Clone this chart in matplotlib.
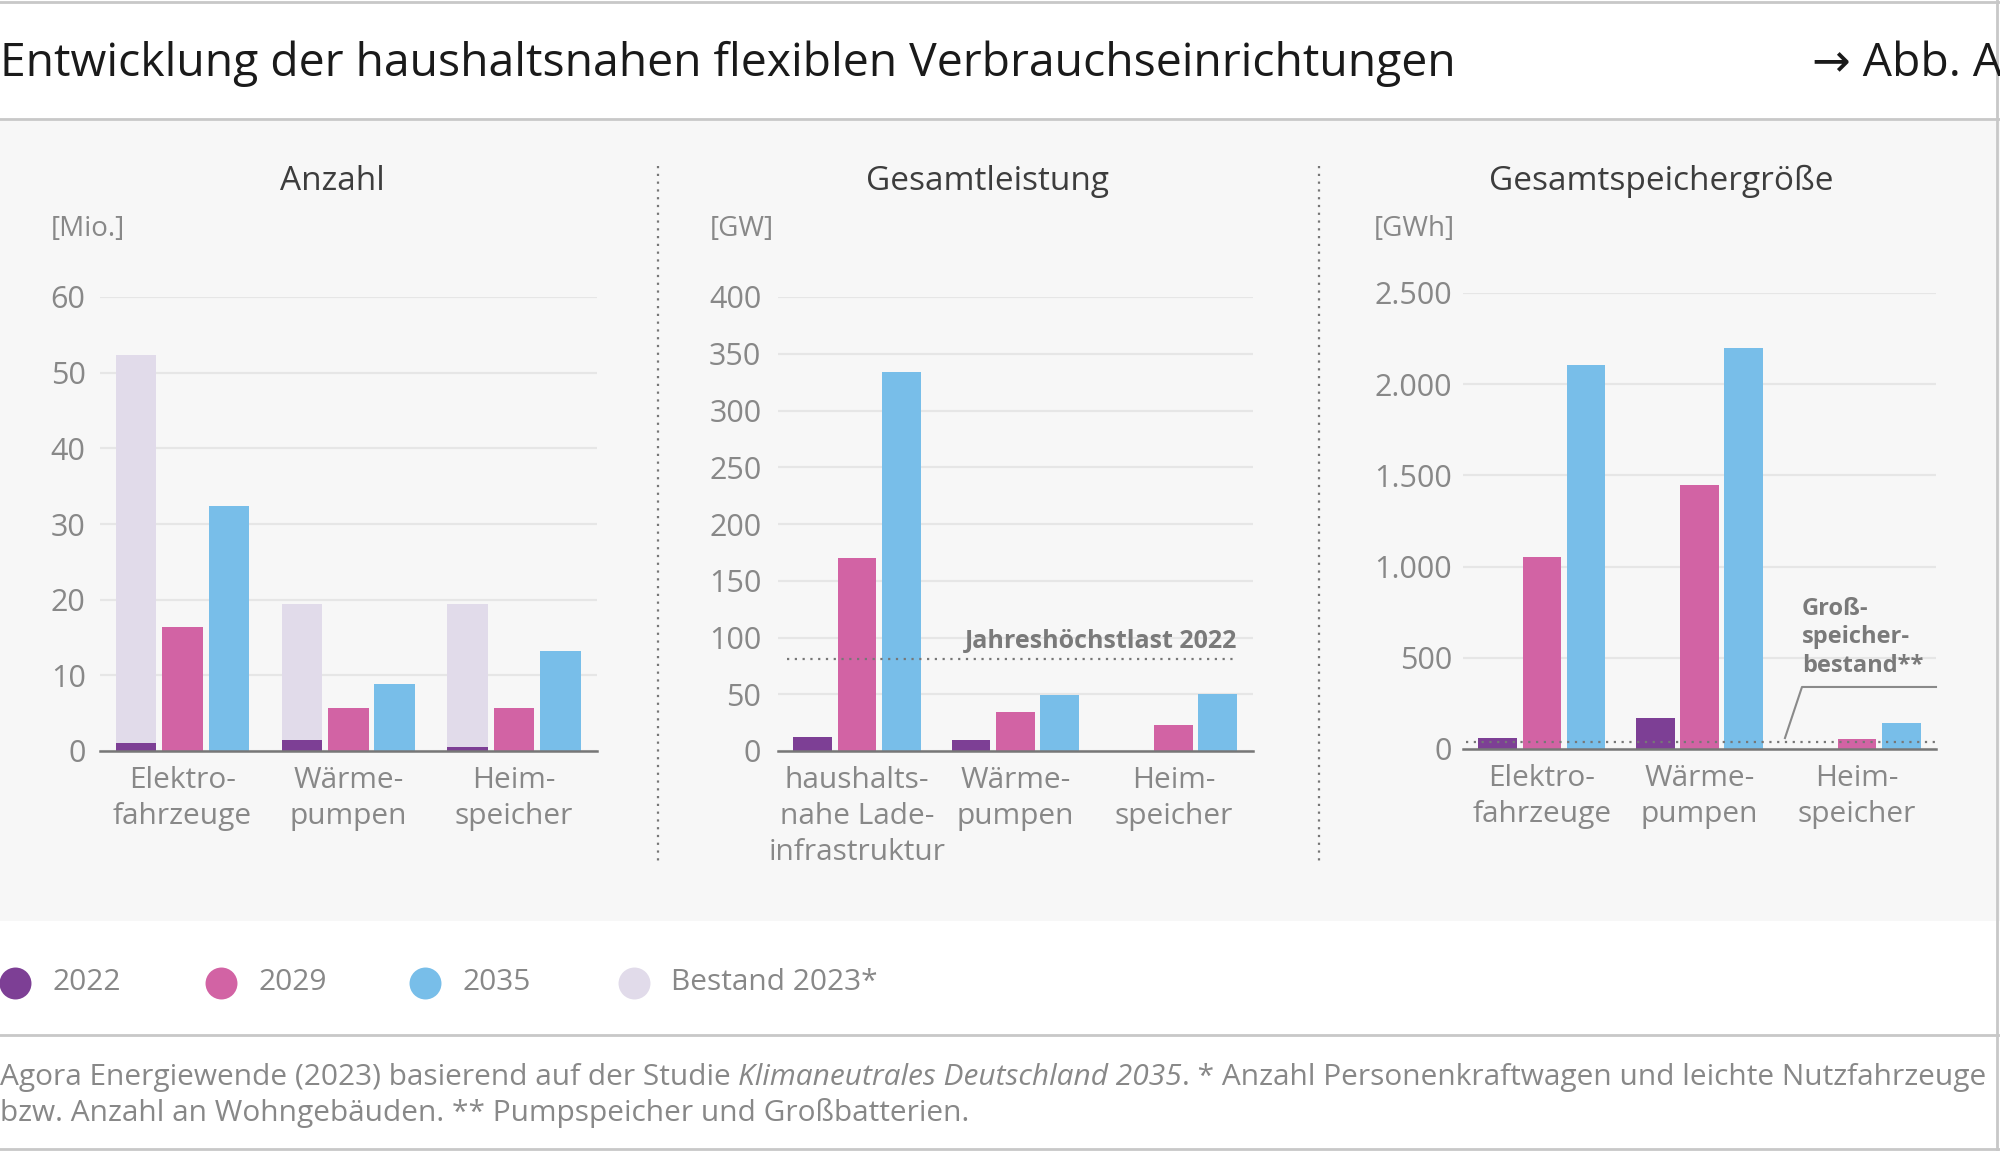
import matplotlib.pyplot as plt
from matplotlib.patches import Rectangle
from matplotlib.lines import Line2D
import numpy as np

plt.rcParams['font.family'] = ['Open Sans', 'DejaVu Sans']

# ---- data ----
groups_anzahl = ['Elektro-\nfahrzeuge', 'Wärme-\npumpen', 'Heim-\nspeicher']
anzahl_2022 = [1.0, 1.5, 0.5]
anzahl_2029 = [16.4, 5.7, 5.7]
anzahl_2035 = [32.4, 8.8, 13.2]
anzahl_bestand = [52.3, 19.4, 19.4]
anzahl_ticks = [0, 10, 20, 30, 40, 50, 60]

groups_leistung = ['haushalts-\nnahe Lade-\ninfrastruktur', 'Wärme-\npumpen', 'Heim-\nspeicher']
leistung_2022 = [12, 10, 0]
leistung_2029 = [170, 34, 22.5]
leistung_2035 = [334, 49.5, 50.5]
leistung_ticks = [0, 50, 100, 150, 200, 250, 300, 350, 400]
jahreshoechstlast = 81

groups_speicher = ['Elektro-\nfahrzeuge', 'Wärme-\npumpen', 'Heim-\nspeicher']
speicher_2022 = [63, 168, 0]
speicher_2029 = [1050, 1450, 55]
speicher_2035 = [2108, 2199, 144]
speicher_ticks = [0, 500, 1000, 1500, 2000, 2500]
speicher_ticklabels = ['0', '500', '1.000', '1.500', '2.000', '2.500']
grossspeicher = 40

c2022 = '#7d3f95'
c2029 = '#d263a4'
c2035 = '#78bee9'
cbest = '#e1dbea'
grey = '#888888'

W, H = 2000, 1151
fig = plt.figure(figsize=(W / 100, H / 100), dpi=100)
fig.patch.set_facecolor('white')

# panel background + rules
fig.patches.append(Rectangle((0, 1 - 921 / H), 1, (921 - 120) / H, transform=fig.transFigure,
                             facecolor='#f7f7f7', edgecolor='none', zorder=-5))
for yy in [2, 119, 1035, 1149]:
    fig.add_artist(Line2D([0, 1], [1 - yy / H] * 2, color='#c8c8c8', lw=2, transform=fig.transFigure))
fig.add_artist(Line2D([1997 / W] * 2, [0, 1], color='#c8c8c8', lw=2, transform=fig.transFigure))

# separators
for xx in [658, 1319]:
    fig.add_artist(Line2D([xx / W] * 2, [1 - 166 / H, 1 - 862 / H], color='#777777', lw=1.6,
                          linestyle=(0, (1, 2.5)), transform=fig.transFigure))

fig.text(0, 1 - 64 / H, 'Entwicklung der haushaltsnahen flexiblen Verbrauchseinrichtungen',
         fontsize=33.3, color='#1a1a1a', va='center', ha='left')
fig.text(1812 / W, 1 - 64 / H, '→ Abb. A', fontsize=33.3, color='#1a1a1a', va='center', ha='left')


def px_axes(x0, x1, y_top, y_bot):
    return fig.add_axes([x0 / W, 1 - y_bot / H, (x1 - x0) / W, (y_bot - y_top) / H])


def style(ax, groups, ticks, ypad, ticklabels=None):
    ax.set_facecolor('none')
    ax.set_xlim(-0.5, 2.5)
    ax.set_ylim(ticks[0], ticks[-1])
    ax.set_yticks(ticks)
    if ticklabels is not None:
        ax.set_yticklabels(ticklabels)
    ax.set_xticks(range(3))
    ax.set_xticklabels(groups, linespacing=1.32)
    ax.yaxis.grid(True, color='#e6e6e6', lw=1.6)
    ax.set_axisbelow(True)
    for s in ['top', 'right', 'left']:
        ax.spines[s].set_visible(False)
    ax.spines['bottom'].set_color('#777777')
    ax.spines['bottom'].set_linewidth(1.8)
    ax.spines['bottom'].set_zorder(5)
    ax.tick_params(axis='y', length=0, pad=ypad, labelsize=22, labelcolor=grey)
    ax.tick_params(axis='x', length=0, pad=11, labelsize=21.5, labelcolor=grey)


off, bw = 0.28, 0.245
x = np.arange(3)

# ---- Anzahl ----
ax1 = px_axes(99.5, 597, 297, 751)
ax1.bar(x - off, anzahl_bestand, bw, color=cbest, zorder=2)
ax1.bar(x - off, anzahl_2022, bw, color=c2022, zorder=3)
ax1.bar(x, anzahl_2029, bw, color=c2029, zorder=3)
ax1.bar(x + off, anzahl_2035, bw, color=c2035, zorder=3)
style(ax1, groups_anzahl, anzahl_ticks, 10)

# ---- Gesamtleistung ----
ax2 = px_axes(778, 1252.6, 297, 751)
ax2.bar(x - off, leistung_2022, bw, color=c2022, zorder=3)
ax2.bar(x, leistung_2029, bw, color=c2029, zorder=3)
ax2.bar(x + off, leistung_2035, bw, color=c2035, zorder=3)
style(ax2, groups_leistung, leistung_ticks, 12)
ax2.plot([-0.444, 2.403], [jahreshoechstlast] * 2, color='#777777', lw=1.6,
         linestyle=(0, (1, 2.5)), zorder=4)
ax2.text(2.403, 96.5, 'Jahreshöchstlast 2022', ha='right', va='center', fontsize=18,
         fontweight='bold', color='#7a7a7a')

# ---- Gesamtspeichergröße ----
ax3 = px_axes(1463, 1936, 293, 749)
ax3.bar(x - off, speicher_2022, bw, color=c2022, zorder=3)
ax3.bar(x, speicher_2029, bw, color=c2029, zorder=3)
ax3.bar(x + off, speicher_2035, bw, color=c2035, zorder=3)
style(ax3, groups_speicher, speicher_ticks, 8, speicher_ticklabels)
ax3.plot([-0.48, 2.5], [grossspeicher] * 2, color='#777777', lw=1.6,
         linestyle=(0, (1, 2.5)), zorder=4)
ax3.plot([1.542, 1.65, 2.5], [60, 340, 340], color='#8a8a8a', lw=1.5, zorder=4, clip_on=False)
ax3.text(1.65, 614, 'Groß-\nspeicher-\nbestand**', ha='left', va='center', fontsize=17,
         fontweight='bold', color='#7a7a7a', linespacing=1.25)

# panel titles and units
for cx, t in [(332, 'Anzahl'), (987, 'Gesamtleistung'), (1661, 'Gesamtspeichergröße')]:
    fig.text(cx / W, 1 - 181 / H, t, ha='center', va='center', fontsize=24, color='#3d3d3d')
for lx, t in [(51, '[Mio.]'), (710, '[GW]'), (1374, '[GWh]')]:
    fig.text(lx / W, 1 - 229 / H, t, ha='left', va='center', fontsize=20, color=grey)

# legend
leg_labels = ['2022', '2029', '2035', 'Bestand 2023*']
leg_colors = [c2022, c2029, c2035, cbest]
leg_cx = [15, 221, 425, 634]
for cx, lab, col in zip(leg_cx, leg_labels, leg_colors):
    fig.add_artist(Line2D([cx / W], [1 - 983 / H], marker='o', markersize=23, color=col,
                          markeredgewidth=0, transform=fig.transFigure))
    fig.text((cx + 37) / W, 1 - 983 / H, lab, ha='left', va='center', fontsize=21.5, color=grey)

# footnote
fs = 21.5
base1 = 1 - 1085 / H
f1 = fig.text(0, base1, 'Agora Energiewende (2023) basierend auf der Studie ',
              ha='left', va='baseline', fontsize=fs, color=grey)
f2 = fig.text(0, base1, 'Klimaneutrales Deutschland 2035', fontsize=fs, color=grey,
              style='italic', va='baseline')
f3 = fig.text(0, base1, '. * Anzahl Personenkraftwagen und leichte Nutzfahrzeuge', fontsize=fs,
              color=grey, va='baseline')
fig.canvas.draw()
r = fig.canvas.get_renderer()
bb1 = f1.get_window_extent(r)
f2.set_x(bb1.x1 / W)
bb2 = f2.get_window_extent(r)
f3.set_x(bb2.x1 / W)
fig.text(0, 1 - 1121 / H, 'bzw. Anzahl an Wohngebäuden. ** Pumpspeicher und Großbatterien.',
         ha='left', va='baseline', fontsize=fs, color=grey)

fig.savefig('out.png', dpi=100, facecolor='white')
